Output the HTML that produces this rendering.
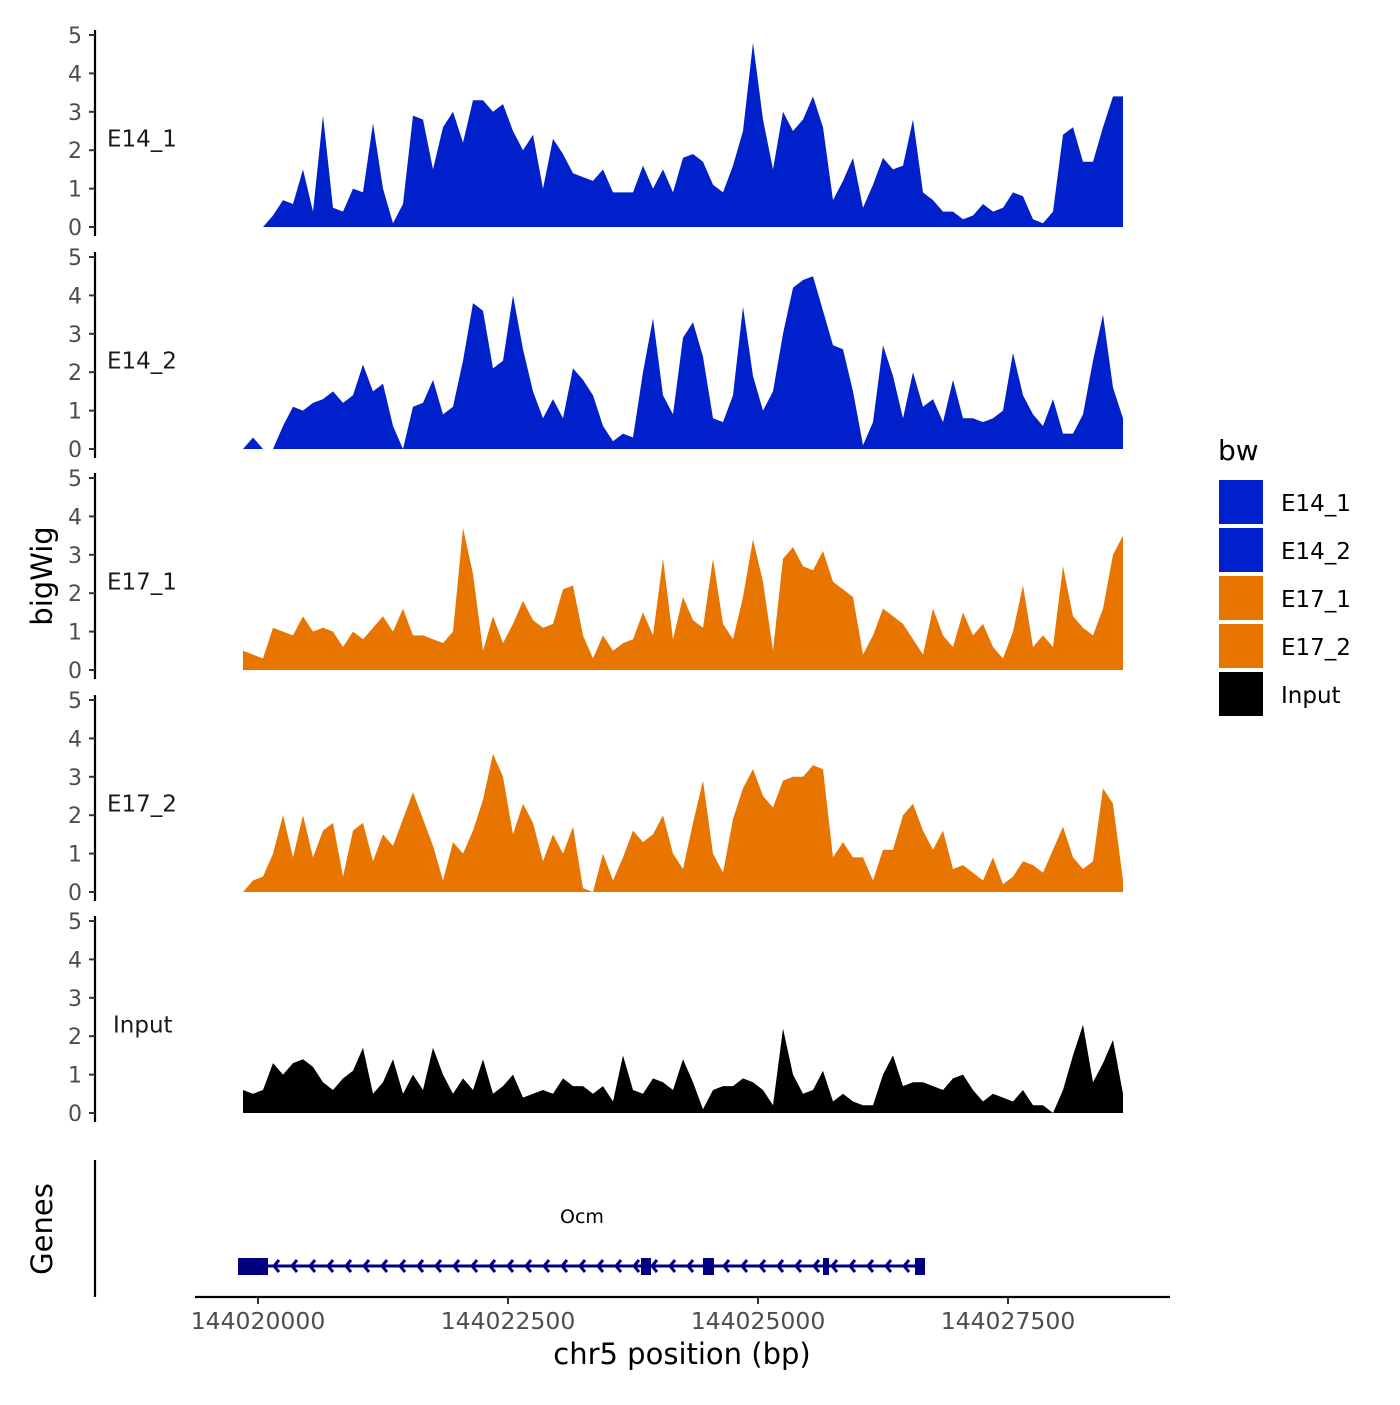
<!DOCTYPE html>
<html><head><meta charset="utf-8"><style>
body{margin:0;background:#fff}
svg text{font-family:"DejaVu Sans","Liberation Sans",sans-serif}
</style></head><body>
<svg id="chart" width="1400" height="1400" viewBox="0 0 1400 1400" xmlns="http://www.w3.org/2000/svg">
<g id="panels"></g>
<g id="genes"></g>
<text x="52" y="576" transform="rotate(-90 52 576)" text-anchor="middle" font-size="29">bigWig</text>
<text x="52" y="1229" transform="rotate(-90 52 1229)" text-anchor="middle" font-size="29">Genes</text>
<line x1="195" y1="1297" x2="1170" y2="1297" stroke="#000" stroke-width="2.2"/>
<g id="xaxis"></g>
<text x="682" y="1364" text-anchor="middle" font-size="29">chr5 position (bp)</text>
<g id="legend">
<text x="1218" y="460" font-size="28">bw</text>
</g>
</svg>
<script>
const NS="http://www.w3.org/2000/svg";
const startBp=144019850, stepBp=100;
const trackNames=["E14_1","E14_2","E17_1","E17_2","Input"];
const trackColors=["#0020CC","#0020CC","#E87500","#E87500","#000000"];
const yTicks=[0,1,2,3,4,5];
const xTicks=[144020000,144022500,144025000,144027500];
const e14_1=[0,0,0,0.3,0.7,0.6,1.5,0.4,2.9,0.5,0.4,1.0,0.9,2.7,1.0,0.1,0.6,2.9,2.8,1.5,2.6,3.0,2.2,3.3,3.3,3.0,3.2,2.5,2.0,2.4,1.0,2.3,1.9,1.4,1.3,1.2,1.5,0.9,0.9,0.9,1.6,1.0,1.5,0.9,1.8,1.9,1.7,1.1,0.9,1.6,2.5,4.8,2.8,1.5,3.0,2.5,2.8,3.4,2.6,0.7,1.2,1.8,0.5,1.1,1.8,1.5,1.6,2.8,0.9,0.7,0.4,0.4,0.2,0.3,0.6,0.4,0.5,0.9,0.8,0.2,0.1,0.4,2.4,2.6,1.7,1.7,2.6,3.4,3.4];
const e14_2=[0,0.3,0,0,0.6,1.1,1.0,1.2,1.3,1.5,1.2,1.4,2.2,1.5,1.7,0.6,0,1.1,1.2,1.8,0.9,1.1,2.3,3.8,3.6,2.1,2.3,4.0,2.6,1.5,0.8,1.3,0.8,2.1,1.8,1.4,0.6,0.2,0.4,0.3,2.0,3.4,1.4,0.9,2.9,3.3,2.4,0.8,0.7,1.4,3.7,1.9,1.0,1.5,3.0,4.2,4.4,4.5,3.6,2.7,2.6,1.5,0.1,0.7,2.7,1.9,0.8,2.0,1.1,1.3,0.7,1.8,0.8,0.8,0.7,0.8,1.0,2.5,1.4,0.9,0.6,1.3,0.4,0.4,0.9,2.3,3.5,1.6,0.8];
const e17_1=[0.5,0.4,0.3,1.1,1.0,0.9,1.4,1.0,1.1,1.0,0.6,1.0,0.8,1.1,1.4,1.0,1.6,0.9,0.9,0.8,0.7,1.0,3.7,2.5,0.5,1.4,0.7,1.2,1.8,1.3,1.1,1.2,2.1,2.2,0.9,0.3,0.9,0.5,0.7,0.8,1.5,0.9,2.9,0.8,1.9,1.3,1.1,2.9,1.2,0.8,1.9,3.4,2.3,0.5,2.9,3.2,2.7,2.6,3.1,2.3,2.1,1.9,0.4,0.9,1.6,1.4,1.2,0.8,0.4,1.6,0.9,0.6,1.5,0.9,1.2,0.6,0.3,1.0,2.2,0.6,0.9,0.6,2.7,1.4,1.1,0.9,1.6,3.0,3.5];
const e17_2=[0,0.3,0.4,1.0,2.0,0.9,2.0,0.9,1.6,1.8,0.4,1.6,1.8,0.8,1.5,1.2,1.9,2.6,1.9,1.2,0.3,1.3,1.0,1.6,2.4,3.6,3.0,1.5,2.3,1.8,0.8,1.5,1.0,1.7,0.1,0,1.0,0.3,0.9,1.6,1.3,1.5,2.0,1.0,0.6,1.8,2.9,1.0,0.5,1.9,2.7,3.2,2.5,2.2,2.9,3.0,3.0,3.3,3.2,0.9,1.3,0.9,0.9,0.3,1.1,1.1,2.0,2.3,1.6,1.1,1.6,0.6,0.7,0.5,0.3,0.9,0.2,0.4,0.8,0.7,0.5,1.1,1.7,0.9,0.6,0.8,2.7,2.3,0.3];
const inputVals=[0.6,0.5,0.6,1.3,1.0,1.3,1.4,1.2,0.8,0.6,0.9,1.1,1.7,0.5,0.8,1.4,0.5,1.0,0.6,1.7,1.0,0.5,0.9,0.6,1.4,0.5,0.7,1.0,0.4,0.5,0.6,0.5,0.9,0.7,0.7,0.5,0.7,0.3,1.5,0.6,0.5,0.9,0.8,0.6,1.4,0.8,0.1,0.6,0.7,0.7,0.9,0.8,0.6,0.2,2.2,1.0,0.5,0.6,1.1,0.3,0.5,0.3,0.2,0.2,1.0,1.5,0.7,0.8,0.8,0.7,0.6,0.9,1.0,0.6,0.3,0.5,0.4,0.3,0.6,0.2,0.2,0,0.6,1.5,2.3,0.8,1.3,1.9,0.5];
const seriesList=[e14_1,e14_2,e17_1,e17_2,inputVals];
const geneName="Ocm";
const geneStart=144019800, geneEnd=144026650;
const exonStarts=[144019800,144023830,144024450,144025650,144026570];
const exonEnds=[144020100,144023930,144024560,144025710,144026670];

function xs(bp){return 258+(bp-144020000)*0.1;}
const panelZero=[227,449,670,892,1113];
const pxPerUnit=38.4;
function ys(i,v){return panelZero[i]-v*pxPerUnit;}
function mk(tag,attrs,parent){const e=document.createElementNS(NS,tag);for(const k in attrs)e.setAttribute(k,attrs[k]);parent.appendChild(e);return e;}

const panels=document.getElementById('panels');
seriesList.forEach((vals,i)=>{
  const g=mk('g',{},panels);
  
  
  let d='M'+xs(startBp)+','+ys(i,0);
  vals.forEach((v,j)=>{d+=' L'+xs(startBp+j*stepBp).toFixed(1)+','+ys(i,v).toFixed(1);});
  d+=' L'+xs(startBp+(vals.length-1)*stepBp).toFixed(1)+','+ys(i,0)+' Z';
  const p=mk('path',{d:d,fill:trackColors[i]},g);
  
  
  const ax=mk('line',{x1:95,y1:ys(i,5)-5,x2:95,y2:ys(i,0)+9,stroke:'#000','stroke-width':2.2},g);
  
  
  yTicks.forEach(t=>{
    mk('line',{x1:89,y1:ys(i,t),x2:95,y2:ys(i,t),stroke:'#333','stroke-width':2},g);
    const tx=mk('text',{x:82,y:ys(i,t)+8,'text-anchor':'end','font-size':22,fill:'#4d4d4d'},g);
    tx.textContent=t;
    
    
  });
  const lab=mk('text',{x:trackNames[i]==='Input'?113:107,y:ys(i,2.3)+8,'font-size':23,fill:'#1a1a1a'},g);
  lab.textContent=trackNames[i];
  
  
});

const genes=document.getElementById('genes');
mk('line',{x1:95,y1:1160,x2:95,y2:1297,stroke:'#000','stroke-width':2.2},genes);
const gy=1266;
mk('line',{x1:xs(geneStart),y1:gy,x2:xs(geneEnd),y2:gy,stroke:'#000080','stroke-width':3},genes);
for(let ax=xs(geneStart)+36;ax<xs(geneEnd)-5;ax+=18){
  const a=mk('path',{d:`M${ax+5},${gy-6} L${ax},${gy} L${ax+5},${gy+6}`,stroke:'#000080','stroke-width':3,fill:'none'},genes);
  
  
}
exonStarts.forEach((s,k)=>{
  const r=mk('rect',{x:xs(s),y:gy-8,width:xs(exonEnds[k])-xs(s),height:17,fill:'#000080'},genes);
  
  
});
const gl=mk('text',{x:582,y:1223,'text-anchor':'middle','font-size':19,fill:'#000'},genes);
gl.textContent=geneName;



const xa=document.getElementById('xaxis');
xTicks.forEach(t=>{
  mk('line',{x1:xs(t),y1:1297,x2:xs(t),y2:1304,stroke:'#333','stroke-width':2},xa);
  const tx=mk('text',{x:xs(t),y:1329,'text-anchor':'middle','font-size':23.5,fill:'#4d4d4d'},xa);
  tx.textContent=t;
  
  
});

const lg=document.getElementById('legend');
trackNames.forEach((n,i)=>{
  const y=480+i*48;
  const r=mk('rect',{x:1219,y:y,width:44,height:44,fill:trackColors[i]},lg);
  
  
  const t=mk('text',{x:1281,y:y+31,'font-size':23,fill:'#000'},lg);
  t.textContent=n;
  
  
});
</script>
</body></html>
